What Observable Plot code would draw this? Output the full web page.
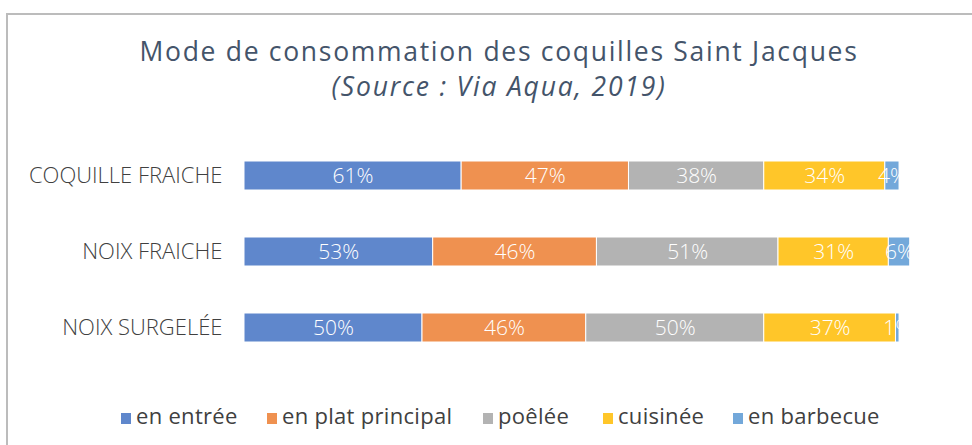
<!DOCTYPE html>
<html><head><meta charset="utf-8">
<script src="https://cdn.jsdelivr.net/npm/d3@7"></script>
<script src="https://cdn.jsdelivr.net/npm/@observablehq/plot@0.6"></script>
<style>
html,body{margin:0;padding:0;background:#fff;}
body{width:972px;height:445px;position:relative;overflow:hidden;font-family:"Open Sans",sans-serif;}
#frame{position:absolute;left:6px;top:13px;width:980px;height:460px;border-top:2px solid #bcbcbc;border-left:2px solid #bcbcbc;}
#title{position:absolute;left:0;width:998px;top:33px;text-align:center;font-size:26.5px;font-weight:400;letter-spacing:1.7px;color:#44546a;line-height:36px;white-space:nowrap;}
#subtitle{position:absolute;left:0;width:998px;top:68px;text-align:center;font-size:26.5px;font-weight:400;font-style:italic;letter-spacing:1.8px;color:#44546a;line-height:36px;white-space:nowrap;}
#chart{position:absolute;left:0;top:130px;}
#legend{position:absolute;left:0;top:400px;width:972px;height:30px;font-size:22px;color:#404040;white-space:nowrap;}
#legend span.item{position:absolute;top:0;line-height:30px;letter-spacing:0.3px;}
#legend span.sw{display:inline-block;width:10px;height:11px;margin-right:5px;vertical-align:0px;}
</style></head>
<body>
<div id="frame"></div>
<div id="title">Mode de consommation des coquilles Saint Jacques</div>
<div id="subtitle">(Source : Via Aqua, 2019)</div>
<div id="chart"></div>
<div id="legend"></div>
<script>
const categories = ["COQUILLE FRAICHE", "NOIX FRAICHE", "NOIX SURGELÉE"];
const series = ["en entrée", "en plat principal", "poêlée", "cuisinée", "en barbecue"];
const enEntree = [61, 53, 50];
const enPlatPrincipal = [47, 46, 46];
const poelee = [38, 51, 50];
const cuisinee = [34, 31, 37];
const enBarbecue = [4, 6, 1];
const colors = ["#5f87cc", "#ef9150", "#b3b3b3", "#ffc629", "#73a8da"];
const legendLefts = [121, 267, 483, 603, 733];

const seriesValues = [enEntree, enPlatPrincipal, poelee, cuisinee, enBarbecue];
const data = [];
series.forEach((s, i) => categories.forEach((c, j) => data.push({cat: c, serie: s, value: seriesValues[i][j]})));

const chart = Plot.plot({
  width: 972,
  height: 240,
  marginLeft: 244,
  marginRight: 16,
  marginTop: 7,
  marginBottom: 5,
  style: {fontFamily: "'Open Sans', sans-serif", background: "transparent"},
  x: {domain: [0, 200], axis: null},
  y: {domain: categories, paddingInner: 0.621, paddingOuter: 0.3, label: null},
  color: {domain: series, range: colors},
  marks: [
    Plot.barX(data, Plot.stackX({x: "value", y: "cat", fill: "serie", stroke: "white", strokeWidth: 1})),
    Plot.text(data, Plot.stackX({x: "value", y: "cat", z: "serie", text: d => d.value + "%", fill: "white", fontSize: 21, fontWeight: 300})),
    Plot.axisY({tickSize: 0, tickPadding: 22, fontSize: 22, fontWeight: 300, fill: "#404040", label: null})
  ]
});
document.getElementById("chart").appendChild(chart);

const legend = document.getElementById("legend");
series.forEach((s, i) => {
  const item = document.createElement("span");
  item.className = "item";
  item.style.left = legendLefts[i] + "px";
  const sw = document.createElement("span");
  sw.className = "sw";
  sw.style.background = colors[i];
  item.appendChild(sw);
  item.appendChild(document.createTextNode(s));
  legend.appendChild(item);
});
</script>
</body></html>
